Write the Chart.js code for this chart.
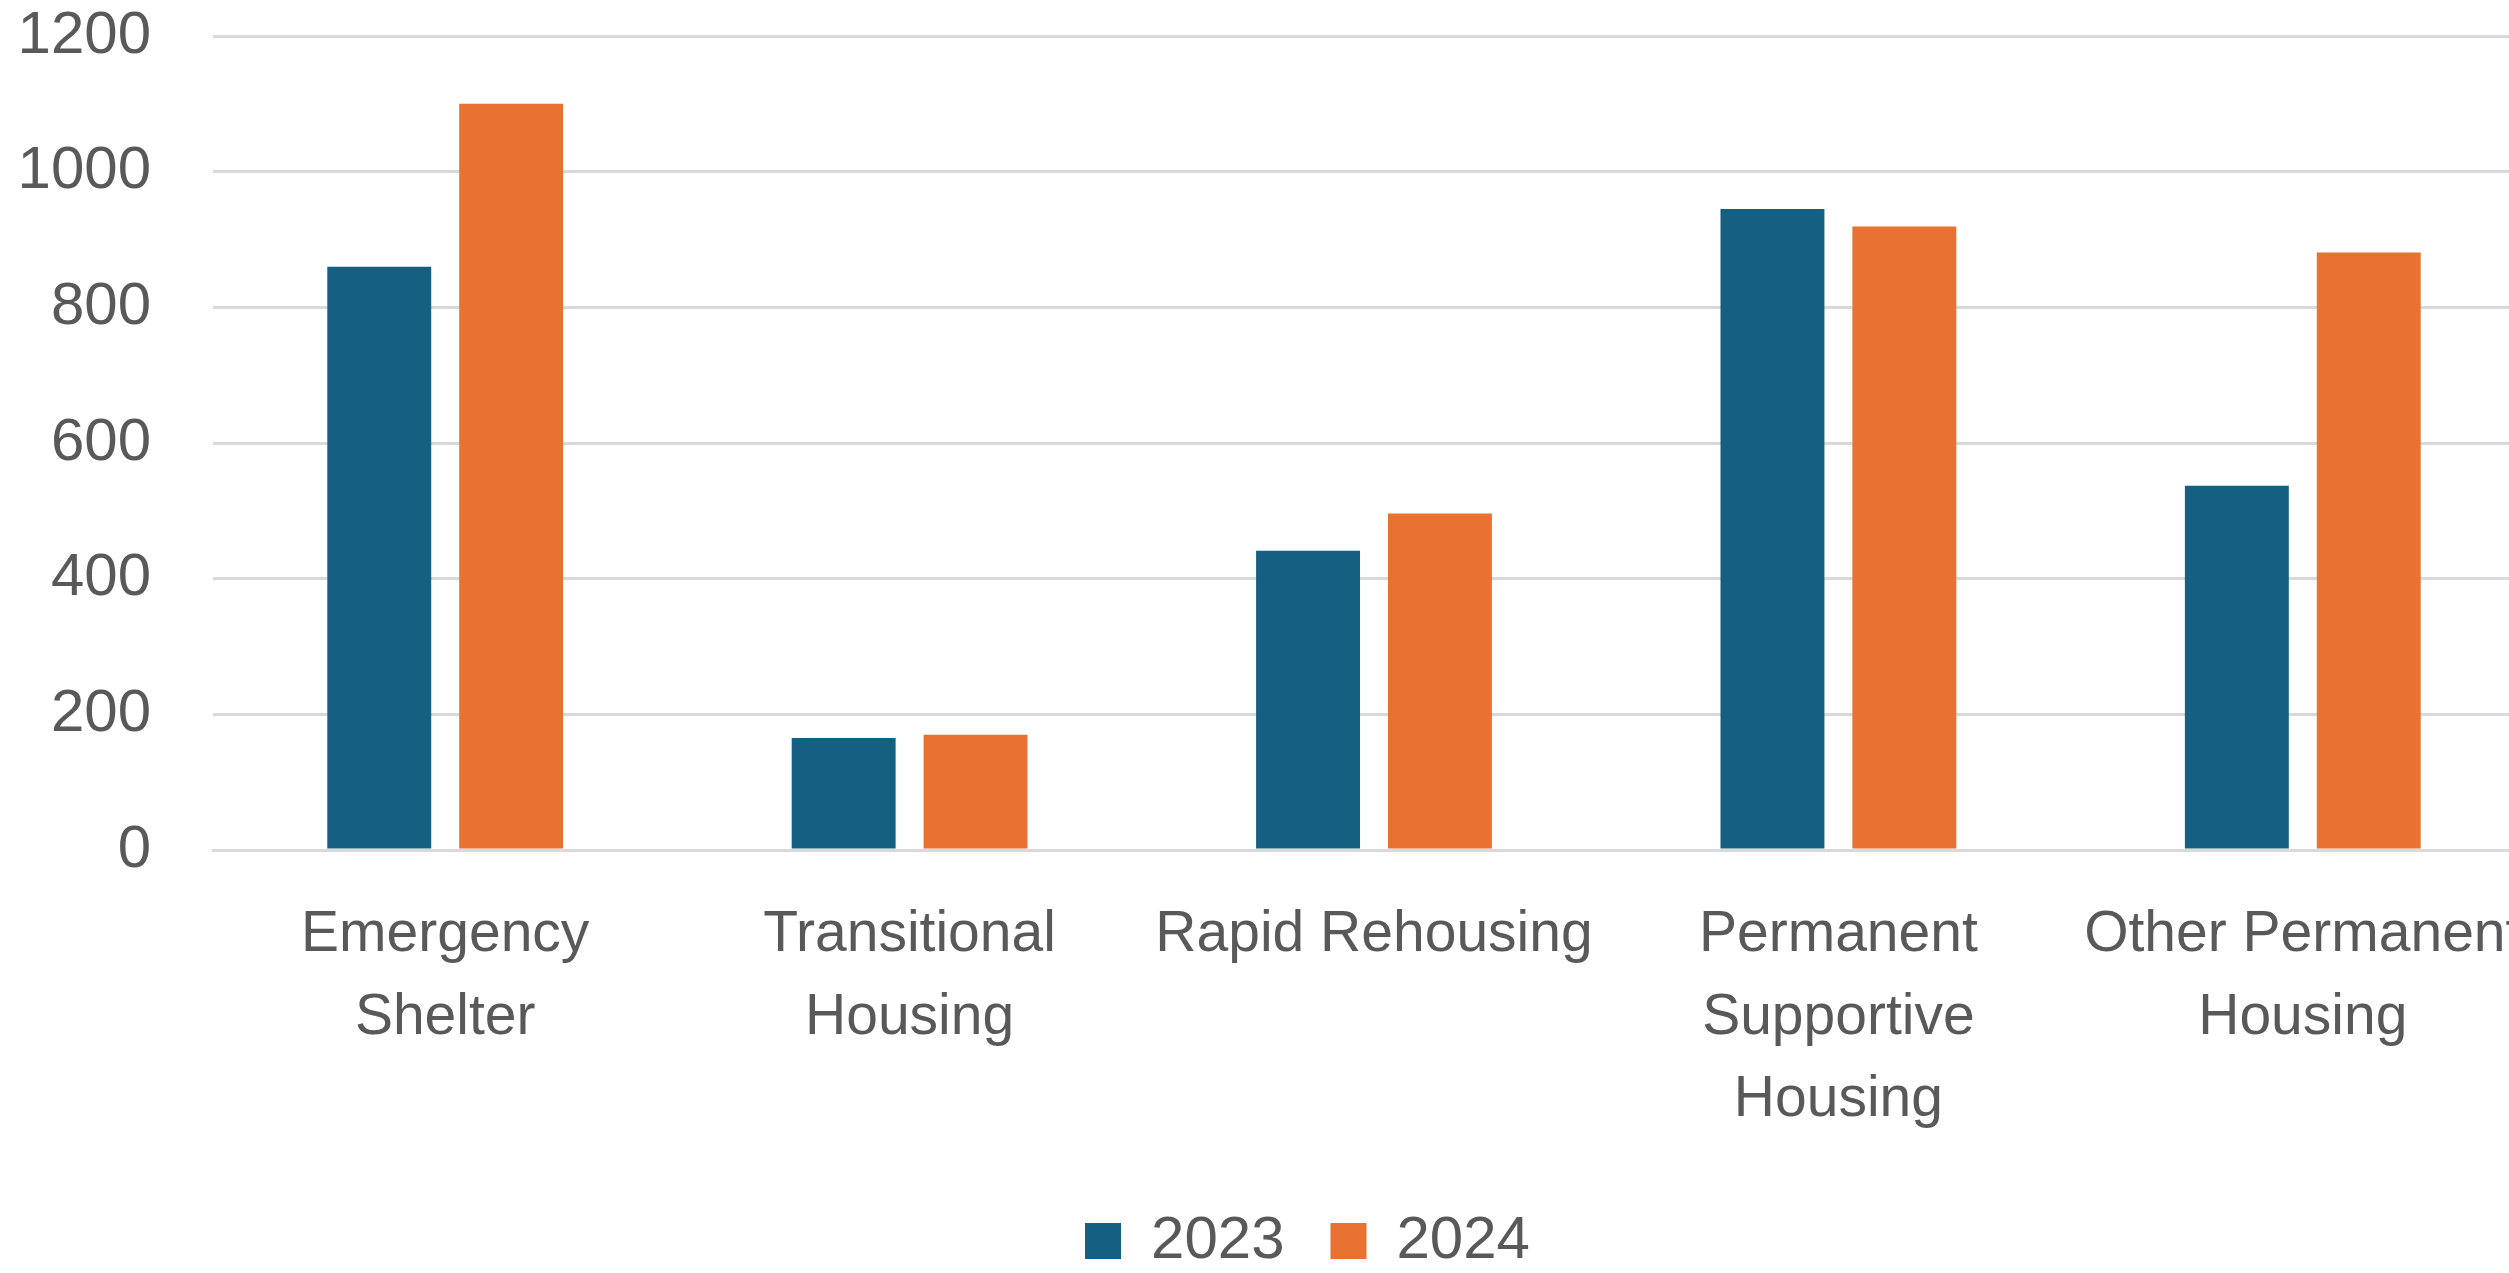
<!DOCTYPE html>
<html>
<head>
  <title>Housing by Project Type</title>
  <script src="https://cdn.jsdelivr.net/npm/chart.js"></script>
  <style>
    html, body { margin: 0; padding: 0; background: #fff; overflow: hidden; }
    /* chart.js adds the y tick padding above the plot too, so pull the canvas up */
    canvas { display: block; margin-top: -62px; }
  </style>
</head>
<body>
  <canvas id="housingChart" width="2615" height="1343"></canvas>
  <script>
  const categories = [
    ['Emergency', 'Shelter'],
    ['Transitional', 'Housing'],
    ['Rapid Rehousing'],
    ['Permanent', 'Supportive', 'Housing'],
    ['Other Permanent', 'Housing']
  ];
  const values2023 = [860, 165, 441, 945, 537];
  const values2024 = [1100, 170, 496, 919, 881];
  const yTicks = [0, 200, 400, 600, 800, 1000, 1200];

  const textColor = '#595959';
  const gridColor = '#D9D9D9';
  const fontFamily = '"Liberation Sans", Arial, sans-serif';

  Chart.defaults.font.family = fontFamily;
  Chart.defaults.font.size = 56;
  Chart.defaults.color = textColor;

  const ctx = document.getElementById('housingChart').getContext('2d');

  const housingChart = new Chart(ctx, {
    type: 'bar',
    data: {
      labels: categories,
      datasets: [
        { label: '2023', data: values2023, backgroundColor: '#156082', borderWidth: 0 },
        { label: '2024', data: values2024, backgroundColor: '#E97132', borderWidth: 0 }
      ]
    },
    options: {
      responsive: false,
      animation: false,
      devicePixelRatio: 1,
      categoryPercentage: 0.568,
      barPercentage: 0.788,
      layout: { padding: 0 },
      plugins: {
        tooltip: { enabled: false },
        legend: {
          position: 'bottom',
          labels: {
            boxWidth: 36,
            boxHeight: 36,
            padding: 46,
            color: textColor,
            font: { size: 60 }
          }
        }
      },
      scales: {
        x: {
          grid: { display: false, drawTicks: false },
          border: { display: true, color: gridColor, width: 3 },
          ticks: {
            autoSkip: false,
            maxRotation: 0,
            minRotation: 0,
            padding: 44,
            color: textColor,
            font: { size: 57, lineHeight: 1.45 }
          },
          afterFit: scale => { scale.height = 315; }
        },
        y: {
          min: 0,
          max: 1200,
          afterBuildTicks: scale => { scale.ticks = yTicks.map(v => ({ value: v })); },
          grid: { color: gridColor, lineWidth: 3, drawTicks: false },
          border: { display: false },
          ticks: {
            padding: 62,
            color: textColor,
            font: { size: 60 },
            callback: v => String(v)
          },
          afterFit: scale => { scale.width = 213; }
        },
        // empty right-hand gap so the legend stays centred on the whole canvas
        gap: {
          type: 'linear',
          position: 'right',
          grid: { display: false, drawTicks: false },
          border: { display: false },
          ticks: { display: false, padding: 0 },
          afterFit: scale => { scale.width = 80; }
        }
      }
    }
  });
  </script>
</body>
</html>
